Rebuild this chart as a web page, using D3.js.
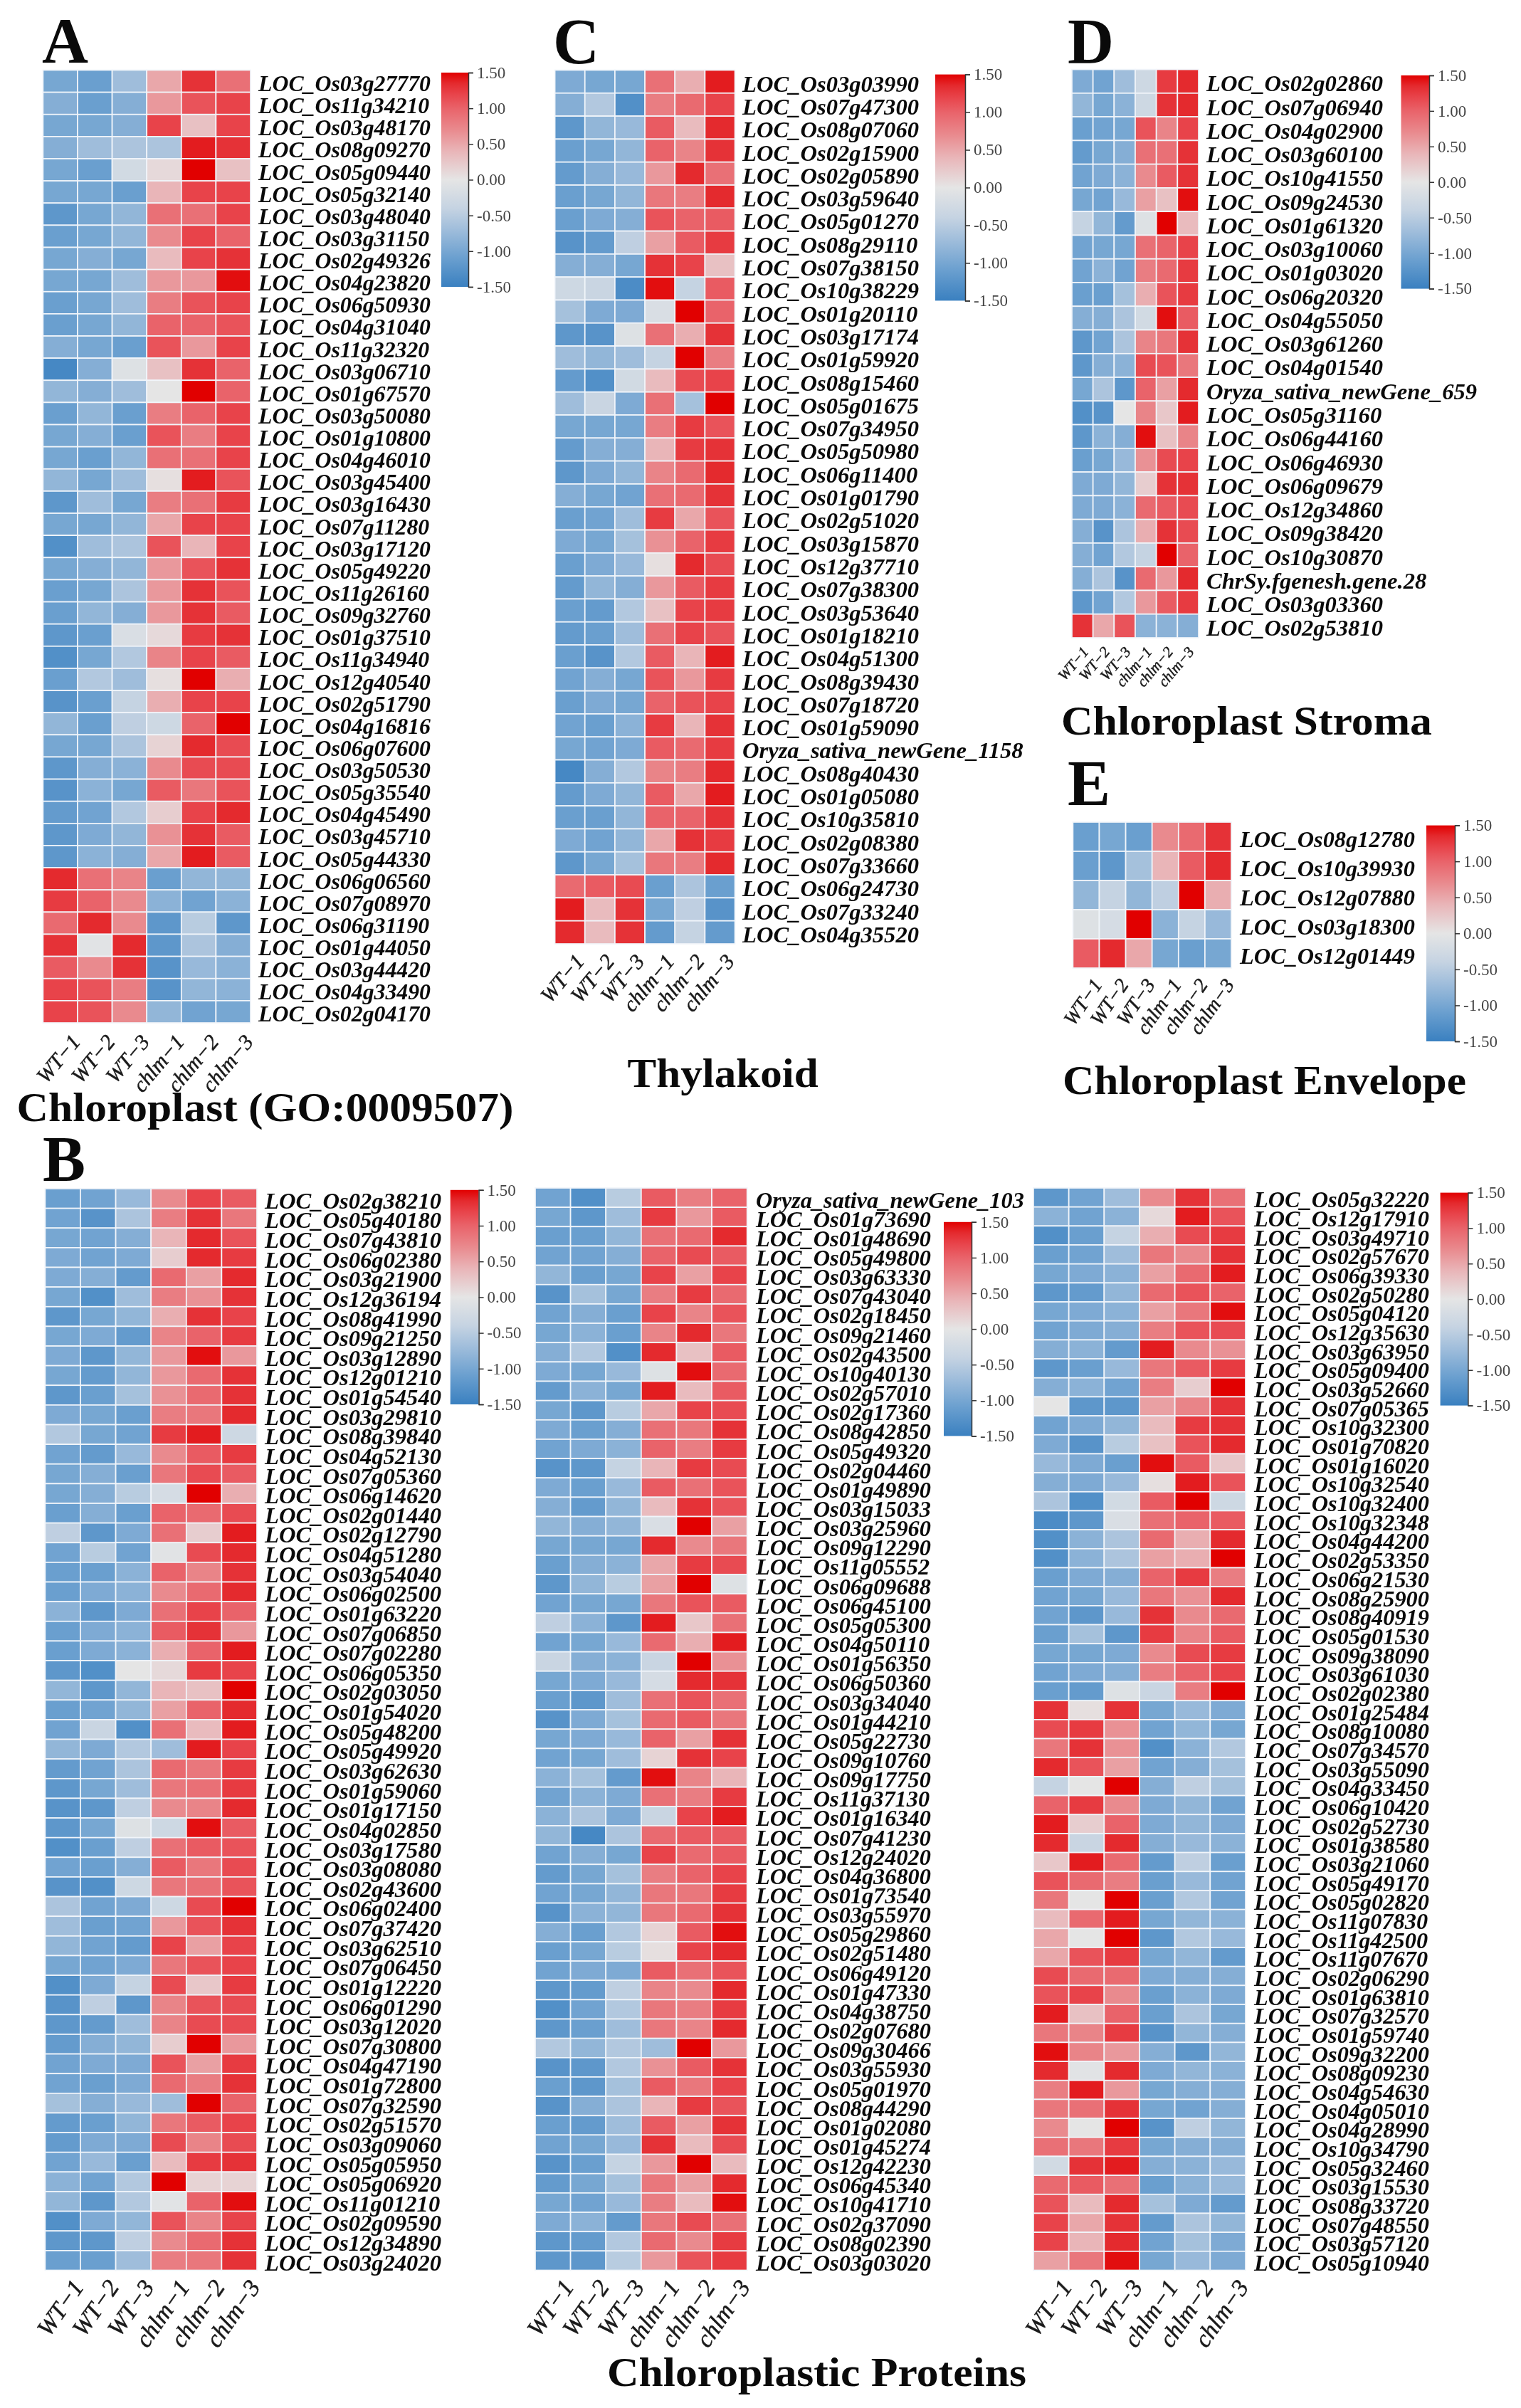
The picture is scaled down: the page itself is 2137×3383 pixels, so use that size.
<!DOCTYPE html>
<html><head><meta charset="utf-8">
<style>html,body{margin:0;padding:0;background:#fff}svg{display:block;filter:blur(0.5px)}text{font-family:"Liberation Serif",serif}</style>
<script src="https://cdn.jsdelivr.net/npm/d3@7"></script></head><body>
<script>
const samples=["WT−1","WT−2","WT−3","chlm−1","chlm−2","chlm−3"];
const legendTicks=[1.5,1,0.5,0,-0.5,-1,-1.5];
const colorStops=[-1.5,-1.1,-.7,-.4,0,.4,.7,1,1.2,1.35,1.5];
const colorRange=["#3a80c0","#6a9fcf","#9fbddb","#c5d3e2","#e5e5e5","#e9b5b8","#e98a8e","#e9636a","#e8434a","#e42a2e","#e10000"];
const geneSuffixA=["03g27770","11g34210","03g48170","08g09270","05g09440","05g32140","03g48040","03g31150","02g49326","04g23820","06g50930","04g31040","11g32320","03g06710","01g67570","03g50080","01g10800","04g46010","03g45400","03g16430","07g11280","03g17120","05g49220","11g26160","09g32760","01g37510","11g34940","12g40540","02g51790","04g16816","06g07600","03g50530","05g35540","04g45490","03g45710","05g44330","06g06560","07g08970","06g31190","01g44050","03g44420","04g33490","02g04170"];
const valuesA=[[-1,-1.1,-.7,.5,1.3,.9],[-.9,-1.1,-.9,.6,1.1,1.2],[-1,-1,-.9,1.2,.3,1.2],[-.9,-.7,-.6,-.6,1.4,1.3],[-1,-1.1,-.25,.1,1.6,.3],[-1,-1,-1.1,.4,1.2,1.2],[-1.2,-1,-.8,.9,.9,1.2],[-1.1,-1,-.8,.7,1.2,1],[-1,-.9,-1,.35,1.2,1.3],[-1,-1,-.7,.6,.6,1.45],[-1.1,-1,-.7,.8,1.1,1.2],[-1.1,-1,-.8,1,1,1.1],[-.9,-1,-1.1,1.1,.6,1.2],[-1.4,-.9,-.1,.3,1.3,1],[-.8,-.9,-.7,0,1.5,1],[-1.1,-.8,-1.1,.8,1,1.2],[-1,-.9,-1.1,1.1,.8,1.2],[-1,-1.1,-.8,.9,.9,1.2],[-.8,-1,-.7,.05,1.4,1.1],[-1.2,-.7,-1,.8,.9,1.25],[-1,-1,-.8,.5,1.2,1.2],[-1.3,-.7,-.6,1.1,.4,1.2],[-1,-.9,-.8,.6,1.1,1.3],[-1.1,-1,-.6,.6,1.3,1.1],[-1.1,-.8,-.9,.6,1.3,1.05],[-1.2,-1.1,-.15,.1,1.25,1.3],[-1.3,-1,-.55,.75,1.2,1.05],[-1.1,-.55,-.7,.05,1.6,.45],[-1.25,-1.1,-.4,.45,1.2,1.2],[-.8,-1.1,-.45,-.3,1,1.55],[-1,-1,-.6,.15,1.35,1.15],[-1.2,-.9,-.85,.7,1.15,1.15],[-1.25,-.85,-1,1.05,.85,1.1],[-1.15,-1.05,-.55,.2,1.2,1.35],[-1.2,-.95,-.8,.65,1.3,1.05],[-1.2,-.85,-.9,.5,1.4,1.05],[1.35,.9,.75,-1.1,-.8,-.8],[1.25,1,.7,-.85,-1.05,-.85],[.95,1.35,.7,-1.2,-.5,-1.2],[1.3,-.05,1.35,-1.2,-.6,-.9],[1.05,.7,1.3,-1.25,-.75,-.85],[1.2,1.1,.8,-1.25,-.8,-.85],[1.2,1.1,.7,-.8,-1.05,-1]];
const geneSuffixC=["03g03990","07g47300","08g07060","02g15900","02g05890","03g59640","05g01270","08g29110","07g38150","10g38229","01g20110","03g17174","01g59920","08g15460","05g01675","07g34950","05g50980","06g11400","01g01790","02g51020","03g15870","12g37710","07g38300","03g53640","01g18210","04g51300","08g39430","07g18720","01g59090","Oryza_sativa_newGene_1158","08g40430","01g05080","10g35810","02g08380","07g33660","06g24730","07g33240","04g35520"];
const valuesC=[[-.95,-1,-1,.9,.45,1.4],[-.9,-.55,-1.3,.8,.95,1.2],[-1.2,-.8,-.75,1.05,.35,1.35],[-1.1,-1,-.8,1,.75,1.3],[-1.15,-.9,-.75,.6,1.35,.9],[-1.1,-1,-.8,.85,.8,1.35],[-1.1,-.95,-.9,1.1,1,1.05],[-1.25,-1.15,-.45,.55,1.05,1.25],[-.9,-.9,-1,1.3,1.2,.3],[-.3,-.35,-1.35,1.45,-.4,1.05],[-.65,-.95,-.95,-.15,1.5,1],[-1.2,-1.25,-.1,.9,.45,1.3],[-.7,-.8,-.7,-.4,1.6,.8],[-1.15,-1.3,-.25,.35,1.15,1.2],[-.7,-.35,-.95,.9,-.65,1.6],[-1,-1,-1,.8,1.25,1.1],[-1.15,-.9,-.9,.4,1.25,1.3],[-1.2,-.95,-.8,.75,.95,1.35],[-.9,-1,-1.05,.9,.95,1.3],[-1.1,-1.05,-.7,1.25,.5,1.1],[-.95,-1,-.65,.65,1,1.25],[-1.1,-.95,-.75,.05,1.35,1.15],[-1.15,-.8,-.9,.6,1.05,1.25],[-1.1,-1.15,-.55,.3,1.2,1.25],[-1.15,-1.1,-.7,.9,1.2,1.1],[-1.1,-1.25,-.55,1.05,.4,1.4],[-1.05,-.9,-1,1.1,.6,1.25],[-1.1,-.95,-1,1,1.1,1.2],[-1.05,-1.1,-.85,1.25,.4,1.3],[-1,-1.05,-.95,1.05,.95,1.25],[-1.4,-.9,-.55,.75,.8,1.35],[-1.15,-.95,-.8,1.05,.5,1.4],[-1.1,-1.1,-.8,1,1,1.3],[-.95,-1.05,-.8,.5,1.3,1.25],[-1.2,-1,-.65,.85,.8,1.35],[.95,1.05,1.15,-1.1,-.6,-1.1],[1.4,.35,1.3,-1,-.45,-1.25],[1.35,.35,1.3,-1.15,-.4,-1.15]];
const geneSuffixD=["02g02860","07g06940","04g02900","03g60100","10g41550","09g24530","01g61320","03g10060","01g03020","06g20320","04g55050","03g61260","04g01540","Oryza_sativa_newGene_659","05g31160","06g44160","06g46930","06g09679","12g34860","09g38420","10g30870","ChrSy.fgenesh.gene.28","03g03360","02g53810"];
const valuesD=[[-.95,-1.05,-.7,-.3,1.25,1.35],[-.8,-1,-.85,-.3,1.3,1.35],[-1.1,-1.05,-1,1.1,.75,1.2],[-1.15,-1,-.9,.9,.9,1.3],[-1.05,-.95,-.85,.7,1.05,1.3],[-1,-1.05,-.75,.55,.3,1.45],[-.4,-.8,-1.15,-.1,1.6,.35],[-1.05,-1,-1,.9,1,1.2],[-1.05,-.85,-1.05,.8,.95,1.25],[-1.1,-1.1,-.65,.45,1.1,1.25],[-.9,-.9,-.6,-.25,1.45,1.05],[-1.2,-1.05,-.6,.75,.85,1.3],[-1.2,-.9,-.85,1.15,1.1,.85],[-1,-.6,-1.2,1,.55,1.35],[-1.3,-1.25,0,.75,.25,1.4],[-1.2,-.85,-.9,1.45,.3,.75],[-1.1,-1,-.75,.65,1.15,1.2],[-.95,-.95,-.8,.2,1.3,1.3],[-.95,-.95,-.85,.95,1.05,1.15],[-.9,-1.25,-.6,.45,1.3,1.15],[-.9,-1.05,-.55,-.4,1.5,1],[-.9,-.6,-1.25,.95,.6,1.35],[-1.2,-1.05,-.55,.6,1.05,1.25],[1.3,.5,1.1,-.85,-.85,-.9]];
const geneSuffixE=["08g12780","10g39930","12g07880","03g18300","12g01449"];
const valuesE=[[-1.1,-1,-1.1,.7,.95,1.3],[-1.1,-1.2,-.65,.4,1.05,1.35],[-.8,-.4,-.8,-.45,1.6,.45],[-.1,-.2,1.55,-.85,-.4,-.75],[1.05,1.35,.5,-1,-1.1,-1]];
const geneSuffixB1=["02g38210","05g40180","07g43810","06g02380","03g21900","12g36194","08g41990","09g21250","03g12890","12g01210","01g54540","03g29810","08g39840","04g52130","07g05360","06g14620","02g01440","02g12790","04g51280","03g54040","06g02500","01g63220","07g06850","07g02280","06g05350","02g03050","01g54020","05g48200","05g49920","03g62630","01g59060","01g17150","04g02850","03g17580","03g08080","02g43600","06g02400","07g37420","03g62510","07g06450","01g12220","06g01290","03g12020","07g30800","04g47190","01g72800","07g32590","02g51570","03g09060","05g05950","05g06920","11g01210","02g09590","12g34890","03g24020"];
const valuesB1=[[-1.1,-1.05,-.75,.7,1.2,1.05],[-1.05,-1.25,-.6,.8,1.3,.85],[-1,-1.05,-.9,.4,1.35,1.1],[-.95,-1.05,-.95,.2,1.35,1.25],[-.95,-.9,-1.15,.95,.55,1.35],[-1,-1.3,-.7,.8,.65,1.3],[-1.2,-1,-.8,.45,1.3,1.2],[-1,-.95,-1.15,.75,1,1.25],[-.95,-1.2,-.8,.6,1.45,.6],[-1,-1.15,-.8,.6,.95,1.3],[-1.2,-1.1,-.65,.65,.95,1.3],[-.95,-1,-1.1,.8,.85,1.35],[-.55,-1,-1.05,1.25,1.4,-.3],[-1.05,-1.15,-.75,.7,1.05,1.25],[-1,-.9,-1.1,.85,1.15,1.05],[-1,-.9,-.5,-.2,1.6,.45],[-1.1,-.9,-1.1,1,.95,1.15],[-.45,-1.2,-.95,.9,.2,1.4],[-1.05,-.5,-1.05,-.05,1.15,1.35],[-1.1,-1.1,-.85,1,.75,1.3],[-1.1,-.95,-.85,.7,.95,1.35],[-.85,-1.2,-.95,.9,1.2,1],[-1.1,-.95,-.85,1.05,1.3,.6],[-1.1,-.95,-.85,.45,1,1.4],[-1.2,-1.3,0,.1,1.25,1.2],[-.8,-1.2,-.8,.4,.3,1.5],[-1.1,-1.05,-.8,.55,1,1.35],[-1.05,-.35,-1.3,.9,.35,1.4],[-.8,-.95,-.55,-.7,1.4,1.2],[-1.15,-1.05,-.6,.95,.85,1.25],[-1.2,-1,-.7,.85,.9,1.25],[-1.25,-1.2,-.45,.7,.75,1.35],[-1.2,-1,-.1,-.3,1.45,1.05],[-1.3,-1.1,-.45,.9,1.05,1.1],[-1.05,-1.1,-.9,1.05,.85,1.15],[-1.25,-1.3,-.3,.85,.9,1.1],[-.6,-1.05,-.95,-.3,1.15,1.5],[-.7,-1.1,-1.05,.6,1.1,1.3],[-.8,-1.05,-1.15,1.2,.55,1.2],[-1,-1.05,-.95,.85,1.1,1.2],[-1.3,-.95,-.4,1.15,.25,1.25],[-1.25,-.45,-1.2,.75,1.1,1.15],[-1.2,-1.15,-.7,.75,1.15,1.15],[-1.15,-.9,-.8,.2,1.55,.6],[-1.05,-.95,-.95,1.1,.55,1.25],[-1.05,-1.1,-.95,.95,.8,1.3],[-.65,-.9,-.75,-.7,1.6,1],[-1.15,-1.1,-.8,.85,1.05,1.2],[-1.15,-.95,-.95,1.15,.75,1.15],[-1.05,-.75,-1.1,.35,1.25,1.3],[-.85,-1.05,-.55,1.6,.15,.15],[-.8,-1.2,-.55,-.05,1,1.45],[-1.3,-.95,-.8,1.1,.75,1.2],[-1.2,-1.2,-.45,.7,.95,1.3],[-1.1,-1.1,-.7,.8,.85,1.3]];
const geneSuffixB2=["Oryza_sativa_newGene_103","01g73690","01g48690","05g49800","03g63330","07g43040","02g18450","09g21460","02g43500","10g40130","02g57010","02g17360","08g42850","05g49320","02g04460","01g49890","03g15033","03g25960","09g12290","11g05552","06g09688","06g45100","05g05300","04g50110","01g56350","06g50360","03g34040","01g44210","05g22730","09g10760","09g17750","11g37130","01g16340","07g41230","12g24020","04g36800","01g73540","03g55970","05g29860","02g51480","06g49120","01g47330","04g38750","02g07680","09g30466","03g55930","05g01970","08g44290","01g02080","01g45274","12g42230","06g45340","10g41710","02g37090","08g02390","03g03020"];
const valuesB2=[[-1.05,-1.3,-.5,1.05,.8,1],[-1,-1.2,-.7,1.25,.6,1.05],[-1.1,-1.1,-.8,.9,.95,1.35],[-1.05,-1.05,-.9,1,1.15,1.05],[-.8,-1.1,-1,1.2,.55,1.2],[-1.25,-.65,-1,.8,1.25,.95],[-1.05,-.9,-1.1,1.2,.75,1.1],[-1,-.85,-1.1,.75,1.35,.85],[-.9,-.55,-1.3,1.35,.3,1.05],[-.95,-1,-.75,-.1,1.45,.95],[-1.15,-.85,-1,1.4,.35,1.05],[-1,-1.2,-.5,.5,1.2,1.15],[-.95,-1.1,-.9,.9,.85,1.3],[-1.05,-.95,-.85,1,.8,1.25],[-1.25,-1.2,-.4,.4,1.25,1.15],[-.95,-1.1,-.75,1.05,.9,1.1],[-.9,-1.15,-.8,.35,1.3,1.1],[-.8,-.9,-.8,-.15,1.6,.55],[-1,-1,-1,1.35,.7,.85],[-1.1,-.9,-.85,.5,1.25,1.15],[-1.2,-.8,-.5,.55,1.6,-.1],[-1.05,-1,-1,.85,1.1,1.05],[-.45,-.85,-1.2,1.4,.25,.9],[-1.05,-1,-.75,.95,.45,1.4],[-.35,-.9,-.85,-.35,1.6,.65],[-1,-.95,-.75,-.2,1.35,1.3],[-1.1,-1.2,-.7,.9,1.1,.9],[-1.25,-.95,-.65,.95,1.05,.85],[-1,-.95,-.75,1,.55,1.3],[-1.05,-1,-.7,.15,1.3,1.2],[-.85,-.65,-1.15,1.45,.75,.4],[-1.05,-.85,-.95,.9,.8,1.25],[-.85,-.6,-.95,-.35,1.2,1.4],[-.8,-1.4,-.6,.95,1.05,1.05],[-1.05,-.9,-1,1.2,.95,1.05],[-1.15,-1,-.65,.8,1,1.2],[-1.05,-1,-.8,.85,.85,1.25],[-1.25,-.85,-.8,.85,.95,1.3],[-.9,-1.1,-.55,.15,1.05,1.45],[-1.1,-1,-.5,.05,1.2,1.35],[-1.05,-.95,-.95,1.05,.9,1.1],[-1.2,-1.15,-.45,.75,.7,1.35],[-1.3,-1.05,-.55,.85,.8,1.25],[-1.2,-1.1,-.7,.85,.75,1.35],[-.55,-.8,-.55,-.7,1.65,.6],[-1.25,-1.2,-.55,.65,1.05,1.3],[-1.1,-1.2,-.65,1.05,.85,1.2],[-1.25,-.9,-.6,.4,1.25,1.1],[-1.1,-1.15,-.7,1.05,.55,1.3],[-1.05,-1,-.75,1.3,.35,1.15],[-1.25,-1.1,-.4,.6,1.5,.35],[-1.15,-1,-.65,.85,.55,1.35],[-1,-1.05,-.75,.8,.35,1.45],[-.95,-.85,-1.15,.85,1.15,.9],[-1.2,-1.15,-.55,.95,.7,1.25],[-1.2,-1.2,-.5,.6,1.1,1.25]];
const geneSuffixB3=["05g32220","12g17910","03g49710","02g57670","06g39330","02g50280","05g04120","12g35630","03g63950","05g09400","03g52660","07g05365","10g32300","01g70820","01g16020","10g32540","10g32400","10g32348","04g44200","02g53350","06g21530","08g25900","08g40919","05g01530","09g38090","03g61030","02g02380","01g25484","08g10080","07g34570","03g55090","04g33450","06g10420","02g52730","01g38580","03g21060","05g49170","05g02820","11g07830","11g42500","11g07670","02g06290","01g63810","07g32570","01g59740","09g32200","08g09230","04g54630","04g05010","04g28990","10g34790","05g32460","03g15530","08g33720","07g48550","03g57120","05g10940"];
const valuesB3=[[-1.2,-1.05,-.7,.7,1.3,.9],[-.85,-1.05,-.85,.1,1.4,1.1],[-1.3,-1.1,-.4,.45,1.15,1.25],[-1.1,-1.05,-.7,.85,.7,1.3],[-1,-.95,-.85,.55,.95,1.4],[-1.2,-1.15,-.8,.95,1.1,1],[-1,-.95,-.85,.55,.85,1.45],[-1.05,-.95,-.9,.8,1.1,1.15],[-.9,-.85,-1.15,1.4,.7,.65],[-1.2,-1.1,-.75,.85,1.05,1.25],[-.9,-.85,-1.05,.8,.2,1.5],[0,-1.2,-1.2,.55,.75,1.3],[-1.05,-.95,-.8,.35,1.25,1.3],[-.95,-1.25,-.5,.3,1.1,1.35],[-.75,-.95,-1.1,1.45,1.05,.25],[-.9,-.95,-.75,.05,1.4,1.1],[-.6,-1.3,-.25,1.05,1.5,-.3],[-1.35,-1.2,-.15,.9,1,1.05],[-1.3,-.85,-.6,.95,.45,1.35],[-1.3,-.85,-.6,.55,.45,1.5],[-1.1,-.95,-.9,1,1.25,.8],[-1.05,-1,-.75,.85,.65,1.35],[-1.05,-1.2,-.75,1.3,.7,.95],[-1.1,-.65,-1.2,1.25,.75,1.05],[-1,-1,-.95,.7,1.15,1.25],[-1.05,-.95,-.9,.8,1,1.2],[-1.1,-1.15,-.1,-.35,.8,1.5],[1.3,.05,1.3,-1,-.75,-.95],[1.15,1.25,.65,-1.05,-.8,-1],[.85,1.3,.65,-1.3,-.85,-.55],[1.35,1.1,.55,-1.05,-.9,-.65],[-.4,0,1.6,-.9,-.45,-.65],[1,1.25,.7,-.95,-.8,-1.05],[1.4,.2,1,-.95,-.8,-.95],[1.35,-.35,1.35,-.9,-.75,-.85],[.25,1.4,.95,-1.15,-.45,-1.1],[1.1,.95,.8,-1.1,-.75,-1.05],[.85,0,1.5,-1.1,-.55,-1.05],[.35,.95,1.4,-1,-.8,-.85],[.5,0,1.6,-1.2,-.55,-.75],[.5,1.1,1.25,-1,-.8,-1.15],[1.15,.95,.95,-.95,-.9,-.9],[1.1,1.2,.7,-1.1,-.85,-.95],[1.4,.3,1,-1.1,-.6,-1],[.85,.75,1.25,-1.25,-.8,-.9],[1.45,.75,.6,-.9,-1.2,-.8],[1.35,-.05,1.35,-.95,-.8,-.85],[.8,1.4,.6,-1,-.9,-.9],[.85,.9,1.3,-1,-1.05,-.9],[.7,0,1.55,-1.25,-.45,-.8],[.9,.85,1.25,-1,-.9,-.9],[-.25,1.3,1.4,-.9,-.85,-.75],[.95,1.05,.9,-1.1,-.85,-.75],[1.1,.35,1.35,-.65,-.95,-1.15],[1.2,.5,1.3,-1.15,-.6,-.8],[1.2,.4,1.35,-1.05,-.65,-.95],[.55,.85,1.45,-1,-.75,-.95]];

const panels=[
 {g:geneSuffixA,v:valuesA,x0:60.4,x1:352,y0:98.5,y1:1437,lx:363,fs:31.8,cb:[620,658,102,403],xf:30,xo:16,xg:16,rot:-50},
 {g:geneSuffixC,v:valuesC,x0:779.6,x1:1032.6,y0:98.5,y1:1326,lx:1043,fs:32.6,cb:[1314,1356,104.6,422.4],xf:30,xo:8,xg:14,rot:-50},
 {g:geneSuffixD,v:valuesD,x0:1506,x1:1684,y0:97.6,y1:896,lx:1695,fs:32.6,cb:[1968.5,2008,105.9,405.6],xf:21,xo:0,xg:12,rot:-50},
 {g:geneSuffixE,v:valuesE,x0:1507.4,x1:1730,y0:1155,y1:1360,lx:1742,fs:32.3,cb:[2004,2044,1159.6,1463],xf:28,xo:10,xg:14,rot:-55},
 {g:geneSuffixB1,v:valuesB1,x0:63.4,x1:361,y0:1670,y1:3189.5,lx:372,fs:32.6,cb:[632.7,672.6,1671.8,1973],xf:34,xo:14,xg:12,rot:-55},
 {g:geneSuffixB2,v:valuesB2,x0:752,x1:1049.7,y0:1669,y1:3189.5,lx:1062,fs:32.3,cb:[1326,1365,1716.8,2017.4],xf:34,xo:14,xg:12,rot:-55},
 {g:geneSuffixB3,v:valuesB3,x0:1452,x1:1750,y0:1669,y1:3189.5,lx:1762,fs:32.3,cb:[2023.6,2062.4,1675.6,1974.6],xf:34,xo:14,xg:12,rot:-55}
];
const titles=[
 {t:"Chloroplast (GO:0009507)",x:23.6,w:698,y:1575,fs:58},
 {t:"Thylakoid",x:881.6,w:268,y:1527,fs:58},
 {t:"Chloroplast Stroma",x:1491,w:521,y:1032,fs:58},
 {t:"Chloroplast Envelope",x:1493,w:567,y:1537,fs:58},
 {t:"Chloroplastic Proteins",x:853,w:589,y:3352,fs:58}
];
const letters=[["A",59,88],["C",777,89],["D",1500,89],["E",1500,1131],["B",60,1659]];

const svg=d3.select("body").append("svg").attr("width",2137).attr("height",3383).attr("viewBox","0 0 2137 3383");
svg.append("rect").attr("width",2137).attr("height",3383).attr("fill","#fff");
const color=d3.scaleLinear().domain(colorStops).range(colorRange).clamp(true);
const defs=svg.append("defs");
const grad=defs.append("linearGradient").attr("id","cbar").attr("x1",0).attr("x2",0).attr("y1",1).attr("y2",0);
colorStops.forEach(d=>grad.append("stop").attr("offset",(d+1.5)/3).attr("stop-color",color(d)));

panels.forEach(p=>{
  const g=svg.append("g");
  const x=d3.scaleBand().domain(samples).range([p.x0,p.x1]);
  const y=d3.scaleBand().domain(p.g).range([p.y0,p.y1]);
  p.g.forEach((gene,i)=>{
    p.v[i].forEach((val,j)=>{
      g.append("rect").attr("x",x(samples[j])).attr("y",y(gene))
       .attr("width",x.bandwidth()).attr("height",y.bandwidth())
       .attr("fill",color(val)).attr("stroke","#f1f5fa").attr("stroke-width",1.7);
    });
    const name=/^[0-9]/.test(gene)?"LOC_Os"+gene:gene;
    g.append("text").attr("x",p.lx).attr("y",y(gene)+y.bandwidth()/2+14)
     .attr("font-size",p.fs).attr("font-weight","bold").attr("font-style","italic").attr("fill","#0a0a0a").text(name);
  });
  samples.forEach(s=>{
    const cx=x(s)+x.bandwidth()/2+p.xo, cy=p.y1+p.xg;
    g.append("text").attr("transform",`translate(${cx},${cy}) rotate(${p.rot})`).attr("text-anchor","end")
     .attr("dy","0.6em").attr("font-size",p.xf).attr("font-style","italic").attr("fill","#1a1a1a")
     .attr("stroke","#1a1a1a").attr("stroke-width",0.5).text(s);
  });
  const [bx0,bx1,by0,by1]=p.cb;
  g.append("rect").attr("x",bx0).attr("y",by0).attr("width",bx1-bx0).attr("height",by1-by0).attr("fill","url(#cbar)");
  const sc=d3.scaleLinear().domain([1.5,-1.5]).range([by0,by1]);
  const ax=g.append("g").attr("transform",`translate(${bx1},0)`)
    .call(d3.axisRight(sc).tickValues(legendTicks).tickSize(7).tickPadding(5).tickFormat(d=>d.toFixed(2)));
  ax.select(".domain").attr("stroke","#333").attr("stroke-width",1.5);
  ax.selectAll(".tick line").attr("stroke","#333").attr("stroke-width",1.5);
  ax.selectAll("text").attr("font-size",23).attr("font-family","Liberation Serif").attr("fill","#444");
});
titles.forEach(t=>svg.append("text").attr("x",t.x).attr("y",t.y).attr("font-size",t.fs).attr("font-weight","bold").attr("fill","#0a0a0a")
  .attr("textLength",t.w).attr("lengthAdjust","spacingAndGlyphs").text(t.t));
letters.forEach(l=>svg.append("text").attr("x",l[1]).attr("y",l[2]).attr("font-size",90).attr("font-weight","bold").attr("fill","#0a0a0a").text(l[0]));
</script></body></html>
